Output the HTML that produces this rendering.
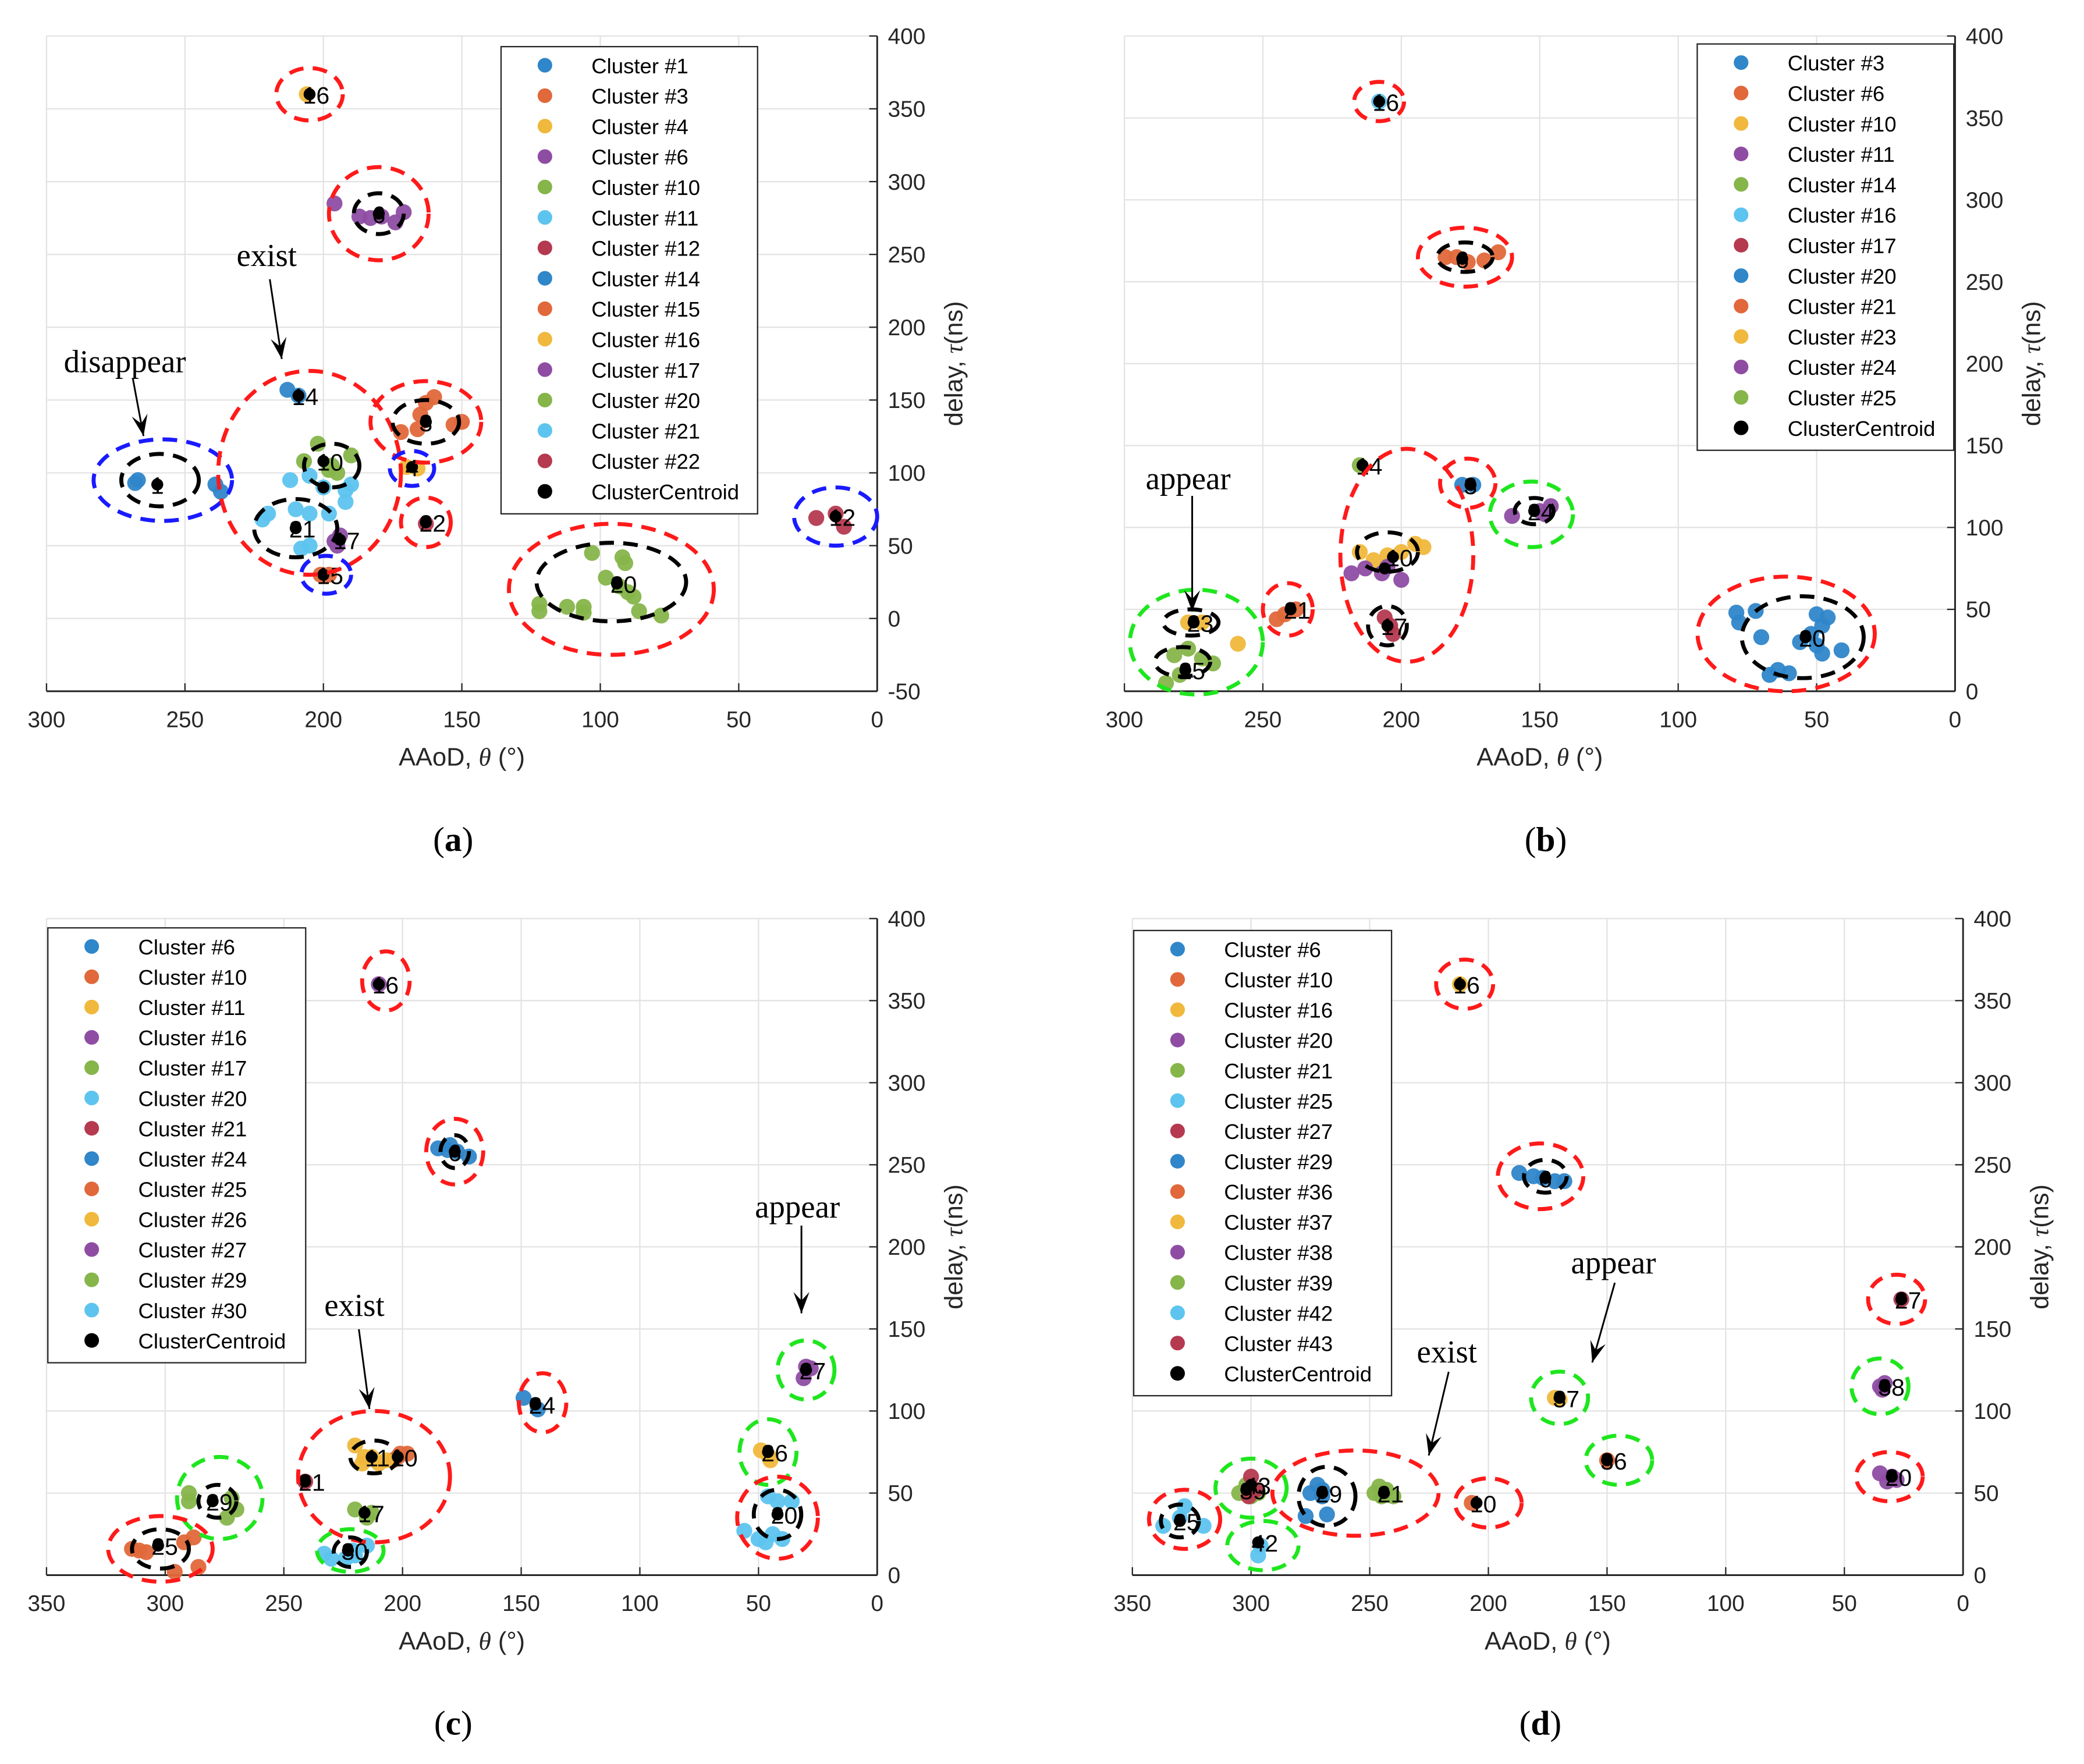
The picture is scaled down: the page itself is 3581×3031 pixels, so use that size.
<!DOCTYPE html>
<html><head><meta charset="utf-8"><title>Cluster tracking plots</title>
<style>html,body{margin:0;padding:0;background:#fff}svg{display:block}</style></head>
<body>
<svg id="fig" xmlns="http://www.w3.org/2000/svg" width="3581" height="3031" viewBox="0 0 1568 1327" font-family="Liberation Sans, sans-serif"></svg>
<script>
// ---------- data ----------
const palette=["#2f86c9","#e0683a","#f0b83c","#8e4da3","#86b54a","#5dc4ef","#b5394f"];
// panel a
const aLegend=["Cluster #1","Cluster #3","Cluster #4","Cluster #6","Cluster #10","Cluster #11","Cluster #12","Cluster #14","Cluster #15","Cluster #16","Cluster #17","Cluster #20","Cluster #21","Cluster #22"];
const aPoints=[
 [[268,93],[267,95],[239,92],[237,87]],
 [[163,148],[160,152],[165,140],[172,128],[166,130],[153,133],[150,135]],
 [[170,104],[166,103]],
 [[196,285],[187,276],[183,275],[179,276],[174,272],[171,279]],
 [[202,120],[207,108],[195,100],[190,112],[197,105],[198,102]],
 [[212,95],[205,98],[200,90],[192,88],[190,92],[192,80]],
 [[22,69],[12,63],[15,72]],
 [[213,157],[209,153]],
 [[201,30],[198,30]],
 [[206,360]],
 [[196,53],[194,57],[195,50]],
 [[122,10],[122,5],[112,8],[106,8],[106,4],[98,28],[92,42],[91,38],[90,18],[88,15],[93,22],[86,5],[78,2],[103,45]],
 [[222,68],[220,72],[210,75],[205,72],[208,48],[205,50],[198,72]],
 [[163,65]]];
const aCentroids=[[260,92],[163,135],[168,104],[180,278],[200,108],[200,90],[15,70],[209,153],[200,30],[205,360],[194,54],[94,24],[210,62],[163,66]];
const aLabels=["1","3","4","6","10","","12","14","15","16","17","20","21","22"];
const aEllipses=[[258,95,25,28,"b"],[259,95,14,18,"k"],[205,360,12,18,"r"],[180,278,18,32,"r"],[180,278,9,14,"k"],[205,100,33,70,"r"],[197,105,10,15,"k"],[210,62,15,20,"k"],[163,135,20,28,"r"],[163,135,12,15,"k"],[168,103,8,12,"b"],[163,66,9,17,"r"],[199,30,9,13,"b"],[96,20,37,45,"r"],[96,25,27,27,"k"],[15,70,15,20,"b"]];
// panel b
const bLegend=["Cluster #3","Cluster #6","Cluster #10","Cluster #11","Cluster #14","Cluster #16","Cluster #17","Cluster #20","Cluster #21","Cluster #23","Cluster #24","Cluster #25"];
const bPoints=[
 [[178,126],[174,126]],
 [[184,265],[180,265],[176,262],[170,263],[165,268]],
 [[215,85],[205,83],[200,85],[195,90],[192,88],[210,80]],
 [[218,72],[213,75],[207,72],[200,68],[205,76]],
 [[215,138]],
 [[208,360]],
 [[206,45],[203,35],[204,40]],
 [[79,48],[78,42],[72,49],[70,33],[67,10],[64,13],[60,11],[56,30],[52,35],[50,28],[48,40],[48,23],[46,45],[41,25],[50,47]],
 [[242,47],[238,50],[245,44]],
 [[277,42],[272,42],[259,29]],
 [[160,107],[150,110],[146,113],[148,108]],
 [[285,5],[280,10],[272,20],[268,17],[277,26],[282,22]]];
const bCentroids=[[175,126],[178,264],[203,82],[206,75],[214,138],[208,360],[205,40],[54,33],[240,50],[275,42],[152,110],[278,13]];
const bLabels=["3","6","10","","14","16","17","20","21","23","24","25"];
const bEllipses=[[208,360,9,12,"r"],[177,265,17,18,"r"],[177,265,10,9,"k"],[176,127,10,15,"r"],[198,83,24,65,"r"],[205,85,11,12,"k"],[205,40,7,12,"k"],[241,50,9,16,"r"],[153,108,15,20,"g"],[152,110,7,8,"k"],[61,35,32,35,"r"],[55,33,22,25,"k"],[274,30,24,32,"g"],[276,42,10,8,"k"],[279,18,10,9,"k"]];
// panel c
const cLegend=["Cluster #6","Cluster #10","Cluster #11","Cluster #16","Cluster #17","Cluster #20","Cluster #21","Cluster #24","Cluster #25","Cluster #26","Cluster #27","Cluster #29","Cluster #30"];
const cPoints=[
 [[185,260],[181,259],[177,258],[172,255],[180,262]],
 [[204,70],[201,74],[198,74],[202,72]],
 [[220,79],[217,68],[213,72],[210,68],[207,70],[216,72]],
 [[210,360]],
 [[220,40],[215,35],[213,38]],
 [[56,27],[50,22],[47,20],[44,25],[40,22],[42,45],[36,45],[46,48]],
 [[241,57]],
 [[149,108],[143,101]],
 [[314,16],[311,15],[308,14],[296,2],[292,20],[288,23],[286,5]],
 [[49,76],[46,73],[45,70]],
 [[31,120],[30,127],[28,126]],
 [[290,50],[290,45],[272,47],[274,35],[270,40]],
 [[233,13],[230,10],[224,10],[220,12],[215,18],[221,15]]];
const cCentroids=[[178,258],[202,72],[213,72],[210,360],[216,38],[42,37],[241,57],[144,104],[303,18],[46,75],[30,125],[280,45],[223,15]];
const cLabels=["6","10","11","16","17","20","21","24","25","26","27","29","30"];
const cEllipses=[[207,362,10,18,"r"],[178,258,12,20,"r"],[178,258,6,10,"k"],[141,105,10,18,"r"],[212,60,32,40,"r"],[212,72,10,10,"k"],[277,47,18,25,"g"],[278,45,8,10,"k"],[302,16,22,20,"r"],[302,16,12,12,"k"],[222,15,14,13,"g"],[222,14,7,9,"k"],[46,75,12,20,"g"],[42,35,17,25,"r"],[42,37,10,15,"k"],[30,125,12,18,"g"]];
// panel d
const dLegend=["Cluster #6","Cluster #10","Cluster #16","Cluster #20","Cluster #21","Cluster #25","Cluster #27","Cluster #29","Cluster #36","Cluster #37","Cluster #38","Cluster #39","Cluster #42","Cluster #43"];
const dPoints=[
 [[187,245],[181,243],[177,242],[172,240],[168,240]],
 [[207,44]],
 [[212,360]],
 [[35,62],[30,60],[28,58],[32,57]],
 [[248,50],[245,48],[240,48],[243,52],[246,54]],
 [[337,30],[330,35],[320,30],[328,42]],
 [[26,168]],
 [[275,50],[270,52],[270,48],[268,37],[277,36],[272,55]],
 [[150,70]],
 [[172,108],[170,107]],
 [[35,115],[33,117],[34,113]],
 [[305,50],[300,48],[297,50],[302,55]],
 [[297,12],[296,18]],
 [[300,60],[298,52],[301,48]]];
const dCentroids=[[176,242],[205,44],[212,360],[30,60],[244,50],[330,33],[26,168],[270,50],[150,70],[170,108],[33,115],[302,52],[297,20],[300,55]];
const dLabels=["6","10","16","20","21","25","27","29","36","37","38","39","42","43"];
const dEllipses=[[210,360,12,15,"r"],[178,243,18,20,"r"],[176,243,9,10,"k"],[28,168,12,15,"r"],[35,115,12,17,"g"],[31,60,14,15,"r"],[170,108,12,16,"g"],[145,70,14,15,"g"],[200,44,14,15,"r"],[256,50,35,26,"r"],[268,48,12,18,"k"],[300,53,15,18,"g"],[328,34,15,18,"r"],[330,33,8,10,"k"],[295,18,15,15,"g"]];
const aXTicks=[300,250,200,150,100,50,0], aYTicks=[-50,0,50,100,150,200,250,300,350,400];
const bYTicks=[0,50,100,150,200,250,300,350,400];
const cXTicks=[350,300,250,200,150,100,50,0], cYTicks=[0,50,100,150,200,250,300,350,400];

// ---------- drawing ----------
const svg=document.getElementById('fig');
const NS="http://www.w3.org/2000/svg";
const ecol={r:"#ff1a1a",b:"#1a1aff",g:"#1ee61e",k:"#000"};
function mk(tag,attrs,parent){const e=document.createElementNS(NS,tag);for(const k in attrs)e.setAttribute(k,attrs[k]);(parent||svg).appendChild(e);return e;}

function panel(P){
 const g=mk('g',{});
 
 
 const sx=v=>P.x0+(P.xmax-v)/(P.xmax-P.xmin)*(P.x1-P.x0);
 const sy=v=>P.y1-(v-P.ymin)/(P.ymax-P.ymin)*(P.y1-P.y0);
 const ppx=(P.x1-P.x0)/(P.xmax-P.xmin), ppy=(P.y1-P.y0)/(P.ymax-P.ymin);
 const grid=mk('g',{stroke:"#e3e3e3","stroke-width":1},g);
 
 
 P.xt.forEach(v=>mk('line',{x1:sx(v),x2:sx(v),y1:P.y0,y2:P.y1},grid));
 P.yt.forEach(v=>mk('line',{x1:P.x0,x2:P.x1,y1:sy(v),y2:sy(v)},grid));
 const ax=mk('g',{stroke:"#262626","stroke-width":1.3,fill:"none"},g);
 
 
 mk('line',{x1:P.x0,x2:P.x1,y1:P.y1,y2:P.y1},ax);
 mk('line',{x1:P.x1,x2:P.x1,y1:P.y0,y2:P.y1},ax);
 const xl=mk('g',{"font-size":17,fill:"#262626","text-anchor":"middle"},g);
 
 
 P.xt.forEach(v=>{mk('line',{x1:sx(v),x2:sx(v),y1:P.y1,y2:P.y1-6,stroke:"#262626"},g);const t=mk('text',{x:sx(v),y:P.y1+27},xl);t.textContent=v;});
 const yl=mk('g',{"font-size":17,fill:"#262626"},g);
 
 
 P.yt.forEach(v=>{mk('line',{x1:P.x1,x2:P.x1-6,y1:sy(v),y2:sy(v),stroke:"#262626"},g);const t=mk('text',{x:P.x1+8,y:sy(v)+6},yl);t.textContent=v;});
 const xt=mk('text',{x:(P.x0+P.x1)/2,y:P.y1+56,"font-size":19,fill:"#262626","text-anchor":"middle"},g);
 
 
 xt.innerHTML='AAoD, <tspan font-family="Liberation Serif, serif" font-style="italic">θ</tspan> (°)';
 const yc=(P.y0+P.y1)/2, yx=P.x1+P.ytx;
 const ytl=mk('text',{x:yx,y:yc,"font-size":19,fill:"#262626","text-anchor":"middle",transform:`rotate(-90 ${yx} ${yc})`},g);
 
 
 ytl.innerHTML='delay, <tspan font-family="Liberation Serif, serif" font-style="italic">τ</tspan>(ns)';
 P.pts.forEach((cl,i)=>{
  const cg=mk('g',{fill:palette[i%7]},g);
  
  
  cl.forEach(p=>mk('circle',{cx:sx(p[0]),cy:sy(p[1]),r:6,opacity:0.95},cg));
 });
 P.cen.forEach((c,i)=>{
  const d=mk('circle',{cx:sx(c[0]),cy:sy(c[1]),r:4.5,fill:"#000"},g);
  
  
  if(P.lab[i]){const t=mk('text',{x:sx(c[0])-5,y:sy(c[1])+7,"font-size":18,fill:"#000"},g);t.textContent=P.lab[i];
  
  }
 });
 P.ell.forEach(e=>{
  const el=mk('ellipse',{cx:sx(e[0]),cy:sy(e[1]),rx:e[2]*ppx,ry:e[3]*ppy,fill:"none",stroke:ecol[e[4]],"stroke-width":3,"stroke-dasharray":"11 7"},g);
  
  
 });
 const lg=mk('g',{},g);
 
 
 const n=P.leg.length+1;
 mk('rect',{x:P.lx,y:P.ly,width:P.lw,height:n*P.ls+8,fill:"#fff",stroke:"#262626","stroke-width":1},lg);
 const ents=P.leg.concat(["ClusterCentroid"]);
 ents.forEach((s,i)=>{
  const yy=P.ly+14+i*P.ls;
  const ge=mk('g',{},lg);
  
  
  mk('circle',{cx:P.lx+33,cy:yy,r:5.5,fill:i<P.leg.length?palette[i%7]:"#000"},ge);
  const t=mk('text',{x:P.lx+68,y:yy+6,"font-size":16,fill:"#000"},ge);t.textContent=s;
 });
 P.ann.forEach(a=>{
  const t=mk('text',{x:a[0],y:a[1],"font-size":24,"font-family":"Liberation Serif, serif",fill:"#000"},g);t.textContent=a[2];
  
  
  mk('line',{x1:a[3],y1:a[4],x2:a[5],y2:a[6],stroke:"#000","stroke-width":1.3},g);
  const ang=Math.atan2(a[6]-a[4],a[5]-a[3]);const L=16,W=6;
  const bx=a[5]-L*Math.cos(ang),by=a[6]-L*Math.sin(ang);
  const ar=mk('polygon',{points:`${a[5]},${a[6]} ${bx-W*Math.sin(ang)},${by+W*Math.cos(ang)} ${bx+0.4*L*Math.cos(ang)},${by+0.4*L*Math.sin(ang)} ${bx+W*Math.sin(ang)},${by-W*Math.cos(ang)}`,fill:"#000"},g);
  
  
 });
 const cap=mk('text',{x:P.capx,y:P.capy,"font-size":26,"font-family":"Liberation Serif, serif","text-anchor":"middle",fill:"#000"},g);
 
 
 cap.innerHTML='(<tspan font-weight="bold">'+P.cap+'</tspan>)';
}
panel({name:'panel-a',x0:35,x1:660,y0:27,y1:520,xmin:0,xmax:300,ymin:-50,ymax:400,xt:aXTicks,yt:aYTicks,ytx:64,
 pts:aPoints,cen:aCentroids,lab:aLabels,ell:aEllipses,leg:aLegend,lx:377,ly:35,lw:193,ls:22.9,
 ann:[[48,280,"disappear",100,285,108,328],[178,200,"exist",203,210,212,270]],cap:"a",capx:341,capy:640});
panel({name:'panel-b',x0:846,x1:1471,y0:27,y1:520,xmin:0,xmax:300,ymin:0,ymax:400,xt:aXTicks,yt:bYTicks,ytx:64,
 pts:bPoints,cen:bCentroids,lab:bLabels,ell:bEllipses,leg:bLegend,lx:1277,ly:33,lw:193,ls:22.9,
 ann:[[862,368,"appear",897,373,897,460]],cap:"b",capx:1163,capy:640});
panel({name:'panel-c',x0:35,x1:660,y0:691,y1:1185,xmin:0,xmax:350,ymin:0,ymax:400,xt:cXTicks,yt:cYTicks,ytx:64,
 pts:cPoints,cen:cCentroids,lab:cLabels,ell:cEllipses,leg:cLegend,lx:36,ly:698,lw:194,ls:22.8,
 ann:[[244,990,"exist",270,1000,278,1060],[568,916,"appear",603,922,603,988]],cap:"c",capx:341,capy:1305});
panel({name:'panel-d',x0:852,x1:1477,y0:691,y1:1185,xmin:0,xmax:350,ymin:0,ymax:400,xt:cXTicks,yt:cYTicks,ytx:64,
 pts:dPoints,cen:dCentroids,lab:dLabels,ell:dEllipses,leg:dLegend,lx:853,ly:700,lw:194,ls:22.8,
 ann:[[1182,958,"appear",1215,965,1198,1025],[1066,1025,"exist",1090,1032,1075,1095]],cap:"d",capx:1159,capy:1305});
</script>
</body></html>
